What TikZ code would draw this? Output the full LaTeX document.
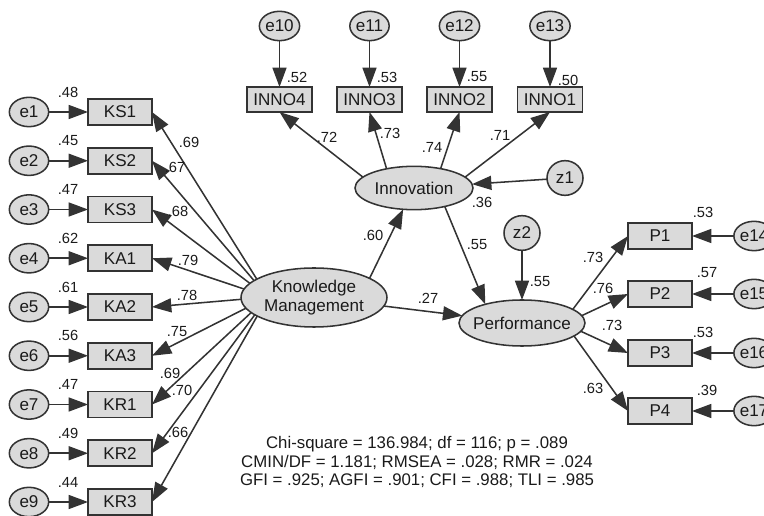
\documentclass[tikz,border=0pt]{standalone}
\usepackage{fontspec}
\setmainfont{Liberation Sans}
\usetikzlibrary{arrows.meta,shapes.geometric}
\definecolor{fillg}{HTML}{DADADA}
\definecolor{lineg}{HTML}{333333}
\definecolor{txt}{HTML}{1A1A1A}
\begin{document}
\begin{tikzpicture}[x=0.75pt,y=-0.75pt,
  every node/.style={text=txt},
  obs/.style={draw=lineg, fill=fillg, line width=1.15pt, rectangle, minimum width=48pt, minimum height=19.5pt, inner sep=0pt, outer sep=0pt, font=\fontsize{12.8}{14}\selectfont},
  obsi/.style={obs, minimum width=48.75pt, minimum height=18.75pt},
  err/.style={draw=lineg, fill=fillg, line width=1.15pt, ellipse, minimum width=29.5pt, minimum height=22pt, inner sep=0pt, outer sep=0pt, font=\fontsize{12.8}{14}\selectfont},
  dist/.style={err, minimum width=27pt, minimum height=26pt},
  lat/.style={draw=lineg, fill=fillg, line width=1.15pt, ellipse, inner sep=0pt, outer sep=0pt, align=center, font=\fontsize{12.8}{14.4}\selectfont},
  arr/.style={draw=lineg, line width=1.15pt, -{Triangle[length=14.5pt,width=10.5pt]}},
  coef/.style={inner sep=0pt, font=\fontsize{11}{12}\selectfont},
]
\useasboundingbox (0,0) rectangle (764,516);

% left indicators
\foreach \n/\e/\i in {KS1/e1/0,KS2/e2/1,KS3/e3/2,KA1/e4/3,KA2/e5/4,KA3/e6/5,KR1/e7/6,KR2/e8/7,KR3/e9/8}{
  \pgfmathsetmacro\yy{112+48.75*\i}
  \node[obs] (\n) at (120,\yy) {\n};
  \node[err] (\e) at (29,\yy) {\e};
  \draw[arr] (\e) -- (\n);
}
% top indicators
\foreach \n/\e/\xx in {INNO4/e10/279.5,INNO3/e11/369.5,INNO2/e12/459.5,INNO1/e13/550}{
  \node[obsi] (\n) at (\xx,99.5) {\n};
  \node[err] (\e) at (\xx,26) {\e};
  \draw[arr] (\e) -- (\n);
}
% right indicators
\foreach \n/\e/\yy in {P1/e14/236,P2/e15/294,P3/e16/353,P4/e17/411}{
  \node[obs] (\n) at (660,\yy) {\n};
  \node[err] (\e) at (754,\yy) {\e};
  \draw[arr] (\e) -- (\n);
}

% knowledge management loadings (drawn beneath the latent)
\coordinate (kmf) at (268,297);
\foreach \n in {KS1,KS2,KS3,KA1,KA2,KA3,KR1,KR2,KR3}{
  \draw[arr] (kmf) -- (\n.east);
}
\node[lat, minimum width=109.5pt, minimum height=44.25pt] (KM) at (314,297.5) {Knowledge\\Management};
\node[lat, minimum width=88.5pt, minimum height=32.5pt] (Inno) at (414,188) {Innovation};
\node[lat, minimum width=94.5pt, minimum height=34.5pt] (Perf) at (522,323) {\makebox[0pt]{Performance}};
\node[dist] (z1) at (565,178) {z1};
\node[dist] (z2) at (522,233) {z2};

% innovation loadings
\draw[arr] (Inno.168) -- (INNO4.south);
\draw[arr] (Inno.145) -- (INNO3.south);
\draw[arr] (Inno.36) -- (INNO2.south);
\draw[arr] (Inno.12) -- (INNO1.south);
% performance loadings
\draw[arr] (Perf.15) -- (P1.west);
\draw[arr] (Perf.7) -- (P2.west);
\draw[arr] (Perf.-8) -- (P3.west);
\draw[arr] (Perf.-14) -- (P4.west);
% structural paths
\draw[arr] (KM.19) -- (Inno.-117);
\draw[arr] (KM) -- (Perf);
\draw[arr] (Inno.-31) -- (Perf.153);
\draw[arr] (z1) -- (Inno);
\draw[arr] (z2) -- (Perf);

% coefficients: left
\foreach \v/\i in {.48/0,.45/1,.47/2,.62/3,.61/4,.56/5,.47/6,.49/7,.44/8}{
  \pgfmathsetmacro\yy{112+48.75*\i-20}
  \node[coef] at (68,\yy) {\v};
}
\node[coef] at (189,142) {.69};
\node[coef] at (175,167) {.67};
\node[coef] at (178,211) {.68};
\node[coef] at (188,260) {.79};
\node[coef] at (187,295) {.78};
\node[coef] at (177,332) {.75};
\node[coef] at (170,373) {.69};
\node[coef] at (182,390) {.70};
\node[coef] at (178,432) {.66};
% top
\node[coef] at (297,77) {.52};
\node[coef] at (387,77) {.53};
\node[coef] at (477,77) {.55};
\node[coef] at (568,80) {.50};
\node[coef] at (327,137) {.72};
\node[coef] at (390,133) {.73};
\node[coef] at (432,147) {.74};
\node[coef] at (500,135) {.71};
% structural
\node[coef] at (373,235) {.60};
\node[coef] at (482,202) {.36};
\node[coef] at (477,245) {.55};
\node[coef] at (540,282) {.55};
\node[coef] at (428,298) {.27};
% right
\node[coef] at (703,212) {.53};
\node[coef] at (707,273) {.57};
\node[coef] at (703,332) {.53};
\node[coef] at (707,390) {.39};
\node[coef] at (593,257) {.73};
\node[coef] at (603,288) {.76};
\node[coef] at (612,325) {.73};
\node[coef] at (593,388) {.63};

% fit indices
\node[align=center, inner sep=0pt, font=\fontsize{12.6}{13.9}\selectfont] (fit) at (417,462)
  {Chi-square = 136.984; df = 116; p = .089\\CMIN/DF = 1.181; RMSEA = .028; RMR = .024\\GFI = .925; AGFI = .901; CFI = .988; TLI = .985};
\end{tikzpicture}
\end{document}
